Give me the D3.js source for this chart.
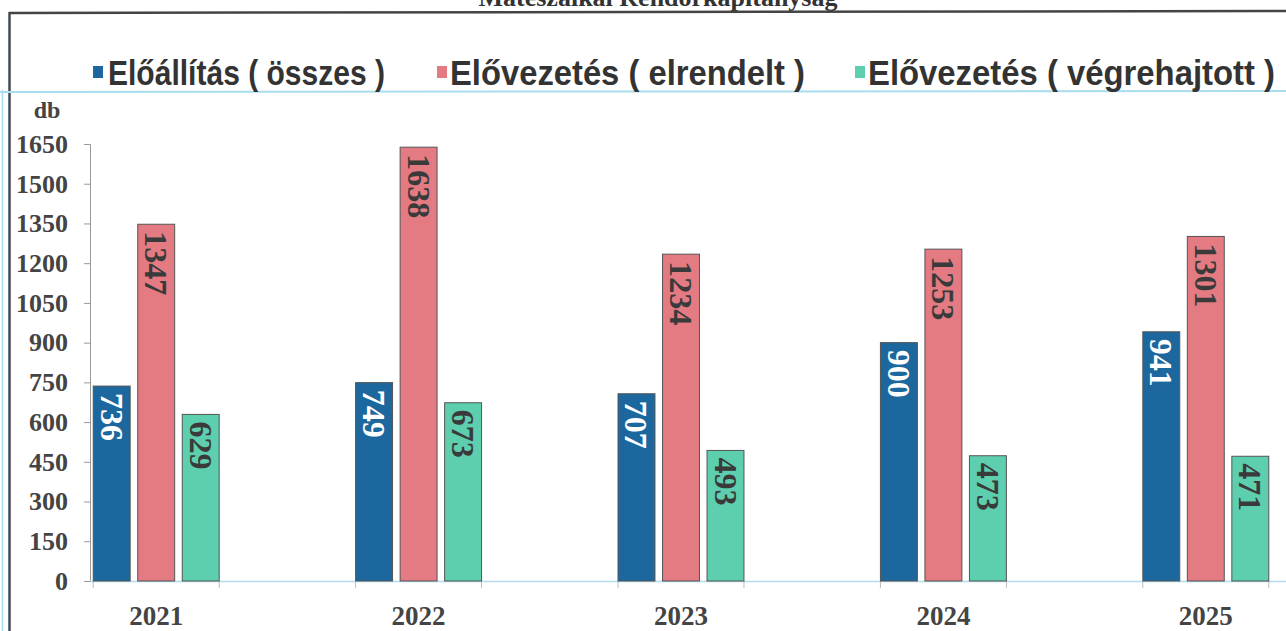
<!DOCTYPE html>
<html>
<head>
<meta charset="utf-8">
<script src="https://cdn.jsdelivr.net/npm/d3@7"></script>
<style>
body { margin: 0; background: #fff; }
svg { display: block; }
</style>
</head>
<body>
<div id="chart"></div>
<script>
const svgWidth = 1286, svgHeight = 631;

// data
const years = ["2021", "2022", "2023", "2024", "2025"];
const seriesNames = ["Előállítás ( összes )", "Elővezetés ( elrendelt )", "Elővezetés ( végrehajtott )"];
const eloallitas = [736, 749, 707, 900, 941];
const elrendelt = [1347, 1638, 1234, 1253, 1301];
const vegrehajtott = [629, 673, 493, 473, 471];
const yTicks = [0, 150, 300, 450, 600, 750, 900, 1050, 1200, 1350, 1500, 1650];

const colors = ["#1c679d", "#e47b82", "#5dcfae"];
const labelColors = ["#ffffff", "#3a3a3a", "#3a3a3a"];
const seriesValues = [eloallitas, elrendelt, vegrehajtott];

const svg = d3.select("#chart")
  .append("svg")
  .attr("width", svgWidth)
  .attr("height", svgHeight);

// title, cut off by the top edge of the scan
svg.append("text")
  .attr("x", 658)
  .attr("y", 6)
  .attr("text-anchor", "middle")
  .attr("font-family", "Liberation Serif, Times New Roman, serif")
  .attr("font-weight", "bold")
  .attr("font-size", 26)
  .attr("fill", "#333")
  .text("Mátészalkai Rendőrkapitányság");

// frame lines
svg.append("line").attr("x1", 9).attr("x2", 1286).attr("y1", 13).attr("y2", 11)
  .attr("stroke", "#444").attr("stroke-width", 2.5);
svg.append("line").attr("x1", 9.5).attr("x2", 9.5).attr("y1", 12).attr("y2", 631)
  .attr("stroke", "#3f4a55").attr("stroke-width", 2.5);
svg.append("line").attr("x1", 2.5).attr("x2", 2.5).attr("y1", 90).attr("y2", 631)
  .attr("stroke", "#a8dcef").attr("stroke-width", 1.5);
svg.append("line").attr("x1", 0).attr("x2", 1286).attr("y1", 92).attr("y2", 91)
  .attr("stroke", "#a8dcef").attr("stroke-width", 2);

// legend
const legendX = [93, 437, 855];
const legendText = [[108, 277], [450, 355], [868, 407]];
seriesNames.forEach((name, i) => {
  svg.append("rect")
    .attr("x", legendX[i]).attr("y", 66)
    .attr("width", 10).attr("height", 12)
    .attr("fill", colors[i]);
  svg.append("text")
    .attr("x", legendText[i][0])
    .attr("y", 85)
    .attr("font-family", "Liberation Sans, Arial, sans-serif")
    .attr("font-weight", "bold")
    .attr("font-size", 35)
    .attr("fill", "#333")
    .attr("textLength", legendText[i][1])
    .attr("lengthAdjust", "spacingAndGlyphs")
    .text(name);
});

// scales
const x0 = d3.scaleBand()
  .domain(years)
  .range([25, 1337])
  .paddingInner(0.52)
  .paddingOuter(0.26);

const x1 = d3.scaleBand()
  .domain([0, 1, 2])
  .range([0, x0.bandwidth()])
  .paddingInner(0.17);

const y = d3.scaleLinear()
  .domain([0, 1650])
  .range([581, 144]);

// y axis
const leftAxis = d3.axisLeft(y).tickValues(yTicks).tickSize(6).tickFormat(d3.format("d"));
const yAxis = svg.append("g")
  .attr("transform", "translate(90,0)")
  .call(leftAxis);
yAxis.select(".domain").attr("stroke", "#999");
yAxis.selectAll(".tick line").attr("stroke", "#999");
yAxis.selectAll(".tick text")
  .attr("x", -22)
  .attr("font-family", "Liberation Serif, Times New Roman, serif")
  .attr("font-weight", "bold")
  .attr("font-size", 26)
  .attr("fill", "#444");

svg.append("text")
  .attr("x", 47)
  .attr("y", 118)
  .attr("text-anchor", "middle")
  .attr("font-family", "Liberation Serif, Times New Roman, serif")
  .attr("font-weight", "bold")
  .attr("font-size", 24)
  .attr("fill", "#444")
  .text("db");

// x axis baseline
svg.append("line")
  .attr("x1", 90).attr("x2", 1286)
  .attr("y1", y(0) + 0.5).attr("y2", y(0) + 0.5)
  .attr("stroke", "#b5dcea").attr("stroke-width", 1.5);

const bottomAxis = d3.axisBottom(x0).tickSize(0).tickPadding(25);
const xAxis = svg.append("g")
  .attr("transform", `translate(0, ${y(0)})`)
  .call(bottomAxis);
xAxis.select(".domain").remove();
xAxis.selectAll(".tick text")
  .attr("font-family", "Liberation Serif, Times New Roman, serif")
  .attr("font-weight", "bold")
  .attr("font-size", 27)
  .attr("fill", "#444");

// small ticks at group edges
years.forEach(yr => {
  [x0(yr), x0(yr) + x0.bandwidth()].forEach(px => {
    svg.append("line")
      .attr("x1", px).attr("x2", px)
      .attr("y1", y(0)).attr("y2", y(0) + 7)
      .attr("stroke", "#bbb");
  });
});

// bars
const groups = svg.selectAll("g.year")
  .data(years)
  .enter()
  .append("g")
  .attr("class", "year")
  .attr("transform", d => `translate(${x0(d)},0)`);

groups.each(function(yr, yi) {
  const g = d3.select(this);
  seriesValues.forEach((vals, si) => {
    const v = vals[yi];
    g.append("rect")
      .attr("x", x1(si))
      .attr("y", y(v))
      .attr("width", x1.bandwidth())
      .attr("height", y(0) - y(v))
      .attr("fill", colors[si])
      .attr("stroke", "#555")
      .attr("stroke-width", 1);
    const cx = x1(si) + x1.bandwidth() / 2;
    const ty = y(v) + 7;
    g.append("text")
      .attr("transform", `translate(${cx},${ty}) rotate(90)`)
      .attr("dominant-baseline", "central")
      .attr("font-family", "Liberation Serif, Times New Roman, serif")
      .attr("font-weight", "bold")
      .attr("font-size", 32)
      .attr("fill", labelColors[si])
      .text(v);
  });
});
</script>
</body>
</html>
